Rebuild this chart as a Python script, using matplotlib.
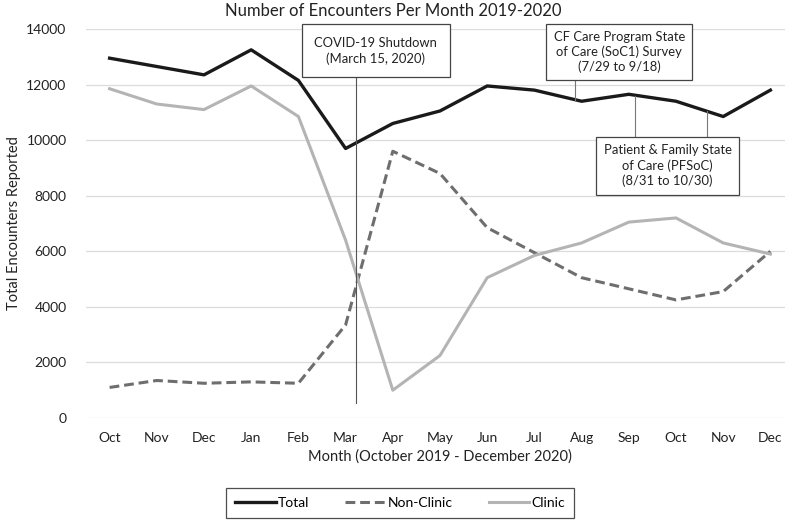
import numpy as np
import matplotlib
matplotlib.use('Agg')
import matplotlib.pyplot as plt

matplotlib.rcParams['font.family'] = ['Lato', 'DejaVu Sans']

months = ['Oct', 'Nov', 'Dec', 'Jan', 'Feb', 'Mar', 'Apr', 'May',
          'Jun', 'Jul', 'Aug', 'Sep', 'Oct', 'Nov', 'Dec']
total = [12950, 12650, 12350, 13250, 12150, 9700, 10600, 11050,
         11950, 11800, 11400, 11650, 11400, 10850, 11800]
non_clinic = [1100, 1350, 1250, 1300, 1250, 3350, 9600, 8800,
              6850, 5950, 5050, 4650, 4250, 4550, 6000]
clinic = [11850, 11300, 11100, 11950, 10850, 6400, 1000, 2250,
          5050, 5850, 6300, 7050, 7200, 6300, 5900]

# event markers (position on month axis, fractional)
covid_x = 5.23
soc1_x = 9.85
pfsoc_x = [11.14, 12.65]

fig = plt.figure(figsize=(7.85, 5.21), dpi=100)
ax = fig.add_axes([86/785, 1 - 418/521, (794 - 86)/785, (418 - 29)/521])

x = np.arange(len(months))
ax.plot(x, total, color='#1a1a1a', lw=2.4, label='Total', zorder=3)
ax.plot(x, non_clinic, color='#6e6e6e', lw=2.2, ls=(0, (3.2, 1.6)), label='Non-Clinic', zorder=3)
ax.plot(x, clinic, color='#b4b4b4', lw=2.2, label='Clinic', zorder=3)

ax.set_xlim(-0.5, len(months) - 0.5)
ax.set_ylim(0, 14000)
ax.set_yticks(np.arange(0, 14001, 2000))
ax.set_xticks(x)
ax.set_xticklabels(months)
ax.grid(axis='y', color='#dcdcdc', lw=0.9)
ax.set_axisbelow(True)
for s in ax.spines.values():
    s.set_visible(False)
ax.tick_params(length=0, labelsize=10, colors='#222222', pad=10)
ax.tick_params(axis='y', pad=14)

ax.set_xlabel('Month (October 2019 - December 2020)', fontsize=10.5, color='#222222', labelpad=4)
ax.set_ylabel('Total Encounters Reported', fontsize=10.5, color='#222222')
ax.yaxis.set_label_coords(-0.092, 0.5)
fig.text(393/785, 1 - 11/521, 'Number of Encounters Per Month 2019-2020',
         ha='center', va='center', fontsize=12, color='#222222')

# annotation lines
ax.plot([covid_x, covid_x], [550, 12250], color='#555555', lw=0.8, zorder=4)
ax.plot([soc1_x, soc1_x], [11450, 12200], color='#777777', lw=0.8, zorder=4)
ax.plot([pfsoc_x[0], pfsoc_x[0]], [10130, 11600], color='#777777', lw=0.8, zorder=4)
ax.plot([pfsoc_x[1], pfsoc_x[1]], [10130, 11050], color='#777777', lw=0.8, zorder=4)

ax.text(5.64, 13220, 'COVID-19 Shutdown\n(March 15, 2020)', ha='center', va='center',
        fontsize=9.4, color='#222222', zorder=5, linespacing=1.3,
        bbox=dict(boxstyle='square,pad=0.95', fc='white', ec='#444444', lw=0.9))
ax.text(10.8, 13170, 'CF Care Program State\nof Care (SoC1) Survey\n(7/29 to 9/18)', ha='center',
        va='center', fontsize=9.4, color='#222222', zorder=5, linespacing=1.25,
        bbox=dict(boxstyle='square,pad=0.55', fc='white', ec='#444444', lw=0.9))
ax.text(11.82, 9080, 'Patient & Family State\nof Care (PFSoC)\n(8/31 to 10/30)', ha='center',
        va='center', fontsize=9.4, color='#222222', zorder=5, linespacing=1.3,
        bbox=dict(boxstyle='square,pad=0.55', fc='white', ec='#444444', lw=0.9))

leg = fig.legend(loc='center', bbox_to_anchor=(400/785, 1 - 503/521), ncol=3, frameon=True,
                 fontsize=10, fancybox=False, edgecolor='#222222', handlelength=2.9,
                 columnspacing=2.6, borderpad=0.65, handletextpad=0.15, borderaxespad=0)
leg.get_frame().set_linewidth(0.9)

fig.savefig('out.png', dpi=100)
